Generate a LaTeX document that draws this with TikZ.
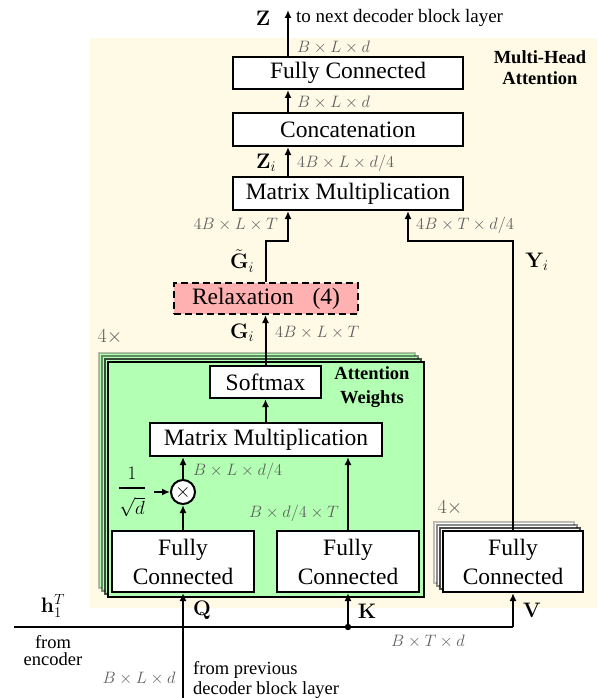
\RequirePackage{fix-cm}
\documentclass[tikz,border=0pt]{standalone}
\usepackage[no-math]{fontspec}
\setmainfont{Liberation Serif}
\usepackage{amsmath}
\usetikzlibrary{arrows.meta,calc}
\definecolor{bgyel}{RGB}{255,250,230}
\definecolor{attgreen}{RGB}{179,255,179}
\definecolor{relpink}{RGB}{255,176,176}
\definecolor{dimgray}{RGB}{95,95,95}
\tikzset{
  blk/.style={draw=black, line width=2pt, fill=white, inner sep=0pt,
    font=\fontsize{23.5}{29}\selectfont, align=center},
  arr/.style={line width=2pt, -{Latex[length=8pt,width=7pt]}},
  ln/.style={line width=2pt},
  dim/.style={text=dimgray, font=\fontsize{16.5}{18}\selectfont, inner sep=0pt},
  times/.style={text=dimgray, font=\fontsize{20}{22}\selectfont, inner sep=0pt},
  sym/.style={font=\fontsize{21}{24}\selectfont, inner sep=0pt},
  note/.style={font=\fontsize{19}{19}\selectfont, inner sep=0pt},
  boldlab/.style={font=\fontsize{18.5}{21}\selectfont\bfseries, align=center, inner sep=0pt},
}
\begin{document}
\begin{tikzpicture}[x=1pt,y=-1pt]
\useasboundingbox (0,0) rectangle (597,698);
\fill[bgyel] (90,38) rectangle (597,608);

% upper blocks
\node[blk, minimum width=230pt, minimum height=32pt] (fc) at (348,73) {Fully Connected};
\node[blk, minimum width=230pt, minimum height=33pt] (concat) at (348,129.5) {Concatenation};
\node[blk, minimum width=230pt, minimum height=33pt] (mm) at (348,193.5) {Matrix Multiplication};
\node[blk, dashed, dash pattern=on 7pt off 4pt, fill=relpink, minimum width=184pt, minimum height=31pt] (relax) at (266,298.5) {Relaxation\hspace{0.8em}(4)};

% attention weights stack
\foreach \k/\op in {3/0.25,2/0.45,1/0.7}
  \draw[fill=attgreen, draw=black, draw opacity=\op, line width=1.3pt]
    (108-3*\k,362-3*\k) rectangle (424-3*\k,597-3*\k);
\node[draw=black, line width=2pt, fill=attgreen, minimum width=316pt, minimum height=235pt, inner sep=0pt] (att) at (266,479.5) {};
\node[blk, minimum width=111pt, minimum height=32pt] (soft) at (265.5,382) {Softmax};
\node[blk, minimum width=232pt, minimum height=33pt] (mm2) at (266,439.5) {Matrix Multiplication};
\node[blk, minimum width=142pt, minimum height=61pt] (fcq) at (183,561.5) {Fully\\Connected};
\node[blk, minimum width=142pt, minimum height=61pt] (fck) at (348,561.5) {Fully\\Connected};
\node[circle, draw=black, line width=2pt, fill=white, minimum size=24pt, inner sep=0pt, font=\fontsize{20}{22}\selectfont] (mul) at (183,492) {$\times$};
\node[inner sep=0pt, font=\fontsize{19}{22}\selectfont] (scale) at (132,492) {$\genfrac{}{}{2.5pt}{0}{1}{\sqrt{d}}$};

% V stack
\foreach \k/\op in {3/0.25,2/0.45,1/0.7}
  \draw[fill=white, draw=black, draw opacity=\op, line width=1.3pt]
    (443-3*\k,531-3*\k) rectangle (583-3*\k,592-3*\k);
\node[blk, minimum width=140pt, minimum height=61pt] (fcv) at (513,561.5) {Fully\\Connected};

% labels
\node[boldlab] (mha) at (540,68) {Multi-Head\\Attention};
\node[boldlab, font=\fontsize{18.5}{24}\selectfont\bfseries] (aw) at (372,387) {Attention\\Weights};
\node[times] (four1) at (110,337) {$4\times$};
\node[times] (four2) at (450,508) {$4\times$};

% coordinates
\coordinate (zout) at (288,10);
\coordinate (jl) at (288,241);
\coordinate (jr) at (408,241);
\coordinate (hl) at (14,627);
\coordinate (vc) at (513,627);
\coordinate (kd) at (348,627);
\coordinate (qin) at (183,698);

% connectors
\draw[arr] (fc.north -| zout) -- (zout);
\draw[arr] (concat.north -| zout) -- (fc.south -| zout);
\draw[arr] (mm.north -| zout) -- (concat.south -| zout);
\draw[arr] (relax.north) |- (jl) -- (mm.south -| jl);
\draw[arr] (fcv.north) |- (jr) -- (mm.south -| jr);
\draw[arr] (soft.north) -- (soft.north |- relax.south);
\draw[arr] (mm2.north -| soft) -- (soft.south);
\draw[arr] (mul.north) -- (mul.north |- mm2.south);
\draw[arr] (fcq.north) -- (mul.south);
\draw[arr] (fck.north) -- (fck.north |- mm2.south);
\draw[arr] ([xshift=8pt]scale.east) -- (mul.west);
\draw[ln] (hl) -- (vc);
\draw[arr] (vc) -- (fcv.south);
\fill (kd) circle (3.2pt);
\draw[arr] (kd) -- (fck.south);
\draw[arr] (qin) -- (fcq.south);

% symbols
\node[sym] (zl) at (263,18) {$\mathbf{Z}$};
\node[note, anchor=west] (nxt) at (296,18) {to next decoder block layer};
\node[sym] (zil) at (266,163) {$\mathbf{Z}_i$};
\node[sym] (gtl) at (242,261) {$\tilde{\mathbf{G}}_i$};
\node[sym] (yil) at (537,262) {$\mathbf{Y}_i$};
\node[sym] (gil) at (242,333) {$\mathbf{G}_i$};
\node[sym] (ql) at (202,610) {$\mathbf{Q}$};
\node[sym] (kl) at (367,611) {$\mathbf{K}$};
\node[sym] (vl) at (532,610) {$\mathbf{V}$};
\node[sym] (hlab) at (53,606) {$\mathbf{h}_1^T$};
\node[note, align=center, font=\fontsize{18.5}{17}\selectfont] (fenc) at (53,651) {from\\encoder};
\node[note, align=left, anchor=west, font=\fontsize{18.5}{20}\selectfont] (fprev) at (193,680) {from previous\\decoder block layer};

% dimensions
\node[dim, anchor=west] (d1) at (297,47) {$B\times L\times d$};
\node[dim, anchor=west] (d2) at (297,102) {$B\times L\times d$};
\node[dim, anchor=west] (d3) at (297,163) {$4B\times L\times d/4$};
\node[dim, anchor=east] (d4) at (278,225) {$4B\times L\times T$};
\node[dim, anchor=west] (d5) at (416,225) {$4B\times T\times d/4$};
\node[dim, anchor=west] (d6) at (275,333) {$4B\times L\times T$};
\node[dim, anchor=west] (d7) at (193,471) {$B\times L\times d/4$};
\node[dim, anchor=east] (d8) at (339,513) {$B\times d/4\times T$};
\node[dim] (d9) at (428,641) {$B\times T\times d$};
\node[dim] (d10) at (139,678) {$B\times L\times d$};
\end{tikzpicture}
\end{document}
